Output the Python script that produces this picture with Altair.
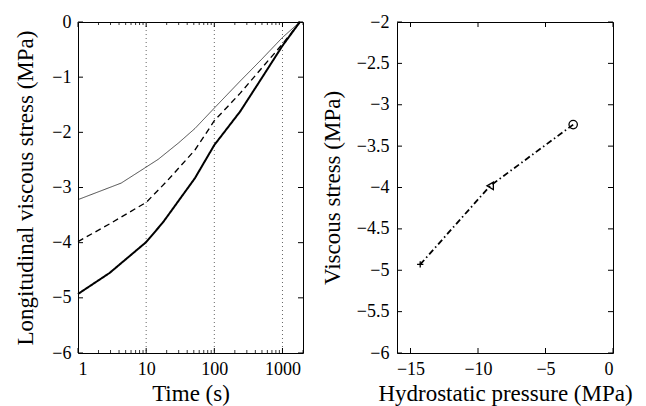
import altair as alt
import pandas as pd

# ---------------- data ----------------
thin_t = [1, 4.3, 10, 15, 30, 52, 100, 240, 500, 1000, 1800]
thin_v = [-3.22, -2.92, -2.63, -2.49, -2.19, -1.93, -1.56, -1.07, -0.67, -0.28, 0.0]

dash_t = [1, 3, 10, 20, 52, 100, 240, 500, 1000, 1800]
dash_v = [-3.98, -3.65, -3.27, -2.89, -2.32, -1.79, -1.29, -0.83, -0.40, 0.0]

thick_t = [1, 2.9, 10, 17.7, 52, 100, 240, 500, 1000, 1800]
thick_v = [-4.93, -4.55, -3.99, -3.63, -2.83, -2.23, -1.62, -1.01, -0.43, 0.0]

time_ticks = [1, 10, 100, 1000]
time_grid = [10, 100, 1000]
time_minor = [2, 3, 4, 5, 6, 7, 8, 9, 20, 30, 40, 50, 60, 70, 80, 90,
              200, 300, 400, 500, 600, 700, 800, 900, 2000]
stress_ticks = [-6, -5, -4, -3, -2, -1, 0]

press_x = [-14.28, -9.1, -2.95]
press_y = [-4.93, -3.98, -3.24]
press_marker = ["a", "b", "c"]
press_xticks = [-15, -10, -5, 0]
press_yticks = [-6, -5.5, -5, -4.5, -4, -3.5, -3, -2.5, -2]

# ---------------- layout ----------------
W1, H = 225, 331
W2 = 216
TK = 5    # major tick length (inward)
TM = 3    # minor tick length

FONT = "Liberation Serif"

# ---------------- left panel ----------------
rows = []
for name, ts, vs in [("thin", thin_t, thin_v), ("dash", dash_t, dash_v), ("thick", thick_t, thick_v)]:
    for t, v in zip(ts, vs):
        rows.append({"t": t, "v": v, "s": name})
df_left = pd.DataFrame(rows)

xs1 = alt.Scale(type="log", domain=[1, 2000], nice=False)
ys1 = alt.Scale(domain=[-6, 0], nice=False, zero=False)
xa1 = alt.Axis(values=time_ticks, format="d", ticks=False, domain=False, grid=False,
               labelPadding=7, titlePadding=4)
ya1 = alt.Axis(values=stress_ticks, format="d", ticks=False, domain=False, grid=False,
               labelPadding=7, titlePadding=14)
XT1 = "Time (s)"
YT1 = "Longitudinal viscous stress (MPa)"


def X1(f):
    return alt.X(f + ":Q", scale=xs1, axis=xa1, title=XT1)


def Y1(f):
    return alt.Y(f + ":Q", scale=ys1, axis=ya1, title=YT1)


grid = alt.Chart(pd.DataFrame({"t": time_grid})).mark_rule(
    color="#666666", strokeDash=[1, 3], strokeWidth=1
).encode(x=X1("t"), y=alt.value(0), y2=alt.value(H))

lines = alt.Chart(df_left).mark_line(color="black").encode(
    x=X1("t"),
    y=Y1("v"),
    detail="s:N",
    strokeDash=alt.StrokeDash("s:N", scale=alt.Scale(domain=["thin", "dash", "thick"],
                                                      range=[[1, 0], [6, 4], [1, 0]]), legend=None),
    strokeWidth=alt.StrokeWidth("s:N", scale=alt.Scale(domain=["thin", "dash", "thick"],
                                                        range=[0.7, 2, 2.4]), legend=None),
)

tx = pd.DataFrame({"t": time_ticks})
tm = pd.DataFrame({"t": time_minor})
ty = pd.DataFrame({"v": stress_ticks})


def xt(df, enc, y0, y1, w=1):
    return alt.Chart(df).mark_rule(color="black", strokeWidth=w).encode(
        x=enc, y=alt.value(y0), y2=alt.value(y1))


def yt(df, enc, x0, x1):
    return alt.Chart(df).mark_rule(color="black", strokeWidth=1).encode(
        y=enc, x=alt.value(x0), x2=alt.value(x1))


left = alt.layer(
    grid, lines,
    xt(tx, X1("t"), H - TK, H), xt(tx, X1("t"), 0, TK),
    xt(tm, X1("t"), H - TM, H, 0.8), xt(tm, X1("t"), 0, TM, 0.8),
    yt(ty, Y1("v"), 0, TK), yt(ty, Y1("v"), W1 - TK, W1),
).properties(width=W1, height=H)

# ---------------- right panel ----------------
df_right = pd.DataFrame({"x": press_x, "y": press_y, "m": press_marker})
xs2 = alt.Scale(domain=[-16, 0], nice=False, zero=False)
ys2 = alt.Scale(domain=[-6, -2], nice=False, zero=False)
xa2 = alt.Axis(values=press_xticks, format="d", ticks=False, domain=False, grid=False,
               labelPadding=7, titlePadding=4)
ya2 = alt.Axis(values=press_yticks, format=".1~f", ticks=False, domain=False, grid=False,
               labelPadding=8, titlePadding=12)
XT2 = "Hydrostatic pressure (MPa)"
YT2 = "Viscous stress (MPa)"


def X2(f):
    return alt.X(f + ":Q", scale=xs2, axis=xa2, title=XT2)


def Y2(f):
    return alt.Y(f + ":Q", scale=ys2, axis=ya2, title=YT2)


rline = alt.Chart(df_right).mark_line(color="black", strokeWidth=1.8, strokeDash=[6, 3, 1.5, 3]).encode(
    x=X2("x"), y=Y2("y"),
)

rpts = alt.Chart(df_right).mark_point(filled=False, color="black", strokeWidth=1.3, opacity=1).encode(
    x=X2("x"), y=Y2("y"),
    shape=alt.Shape("m:N", scale=alt.Scale(domain=press_marker,
                                           range=["M-1,0L1,0M0,-1L0,1", "triangle-left", "circle"]),
                    legend=None),
    size=alt.Size("m:N", scale=alt.Scale(domain=press_marker, range=[40, 70, 42]), legend=None),
)

px = pd.DataFrame({"x": press_xticks})
py = pd.DataFrame({"y": press_yticks})

right = alt.layer(
    rline, rpts,
    xt(px, X2("x"), H - TK, H), xt(px, X2("x"), 0, TK),
    yt(py, Y2("y"), 0, TK), yt(py, Y2("y"), W2 - TK, W2),
).properties(width=W2, height=H)

chart = alt.hconcat(left, right, spacing=15).properties(
    padding={"left": 6, "top": 4, "right": 5, "bottom": 0},
    background="white",
).configure_view(stroke="black", strokeWidth=1).configure_axis(
    labelFont=FONT, titleFont=FONT, labelFontSize=18, titleFontSize=23,
    titleFontWeight="normal", labelColor="black", titleColor="black",
).configure_concat(spacing=15)

chart.save("out.html", embed_options={"renderer": "svg", "actions": False})
